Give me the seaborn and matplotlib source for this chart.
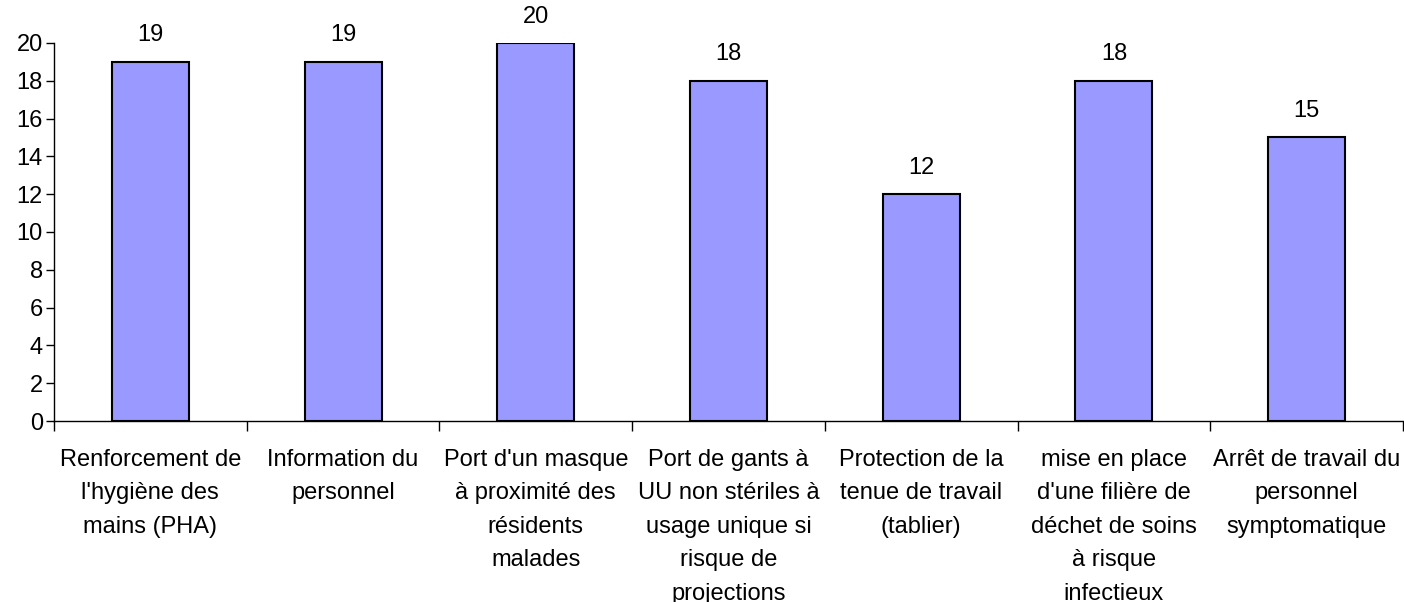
import matplotlib
matplotlib.use("Agg")
import matplotlib.pyplot as plt
import seaborn as sns
import pandas as pd
import numpy as np

categories = [
    "Renforcement de\nl'hygiène des\nmains (PHA)",
    "Information du\npersonnel",
    "Port d'un masque\nà proximité des\nrésidents\nmalades",
    "Port de gants à\nUU non stériles à\nusage unique si\nrisque de\nprojections",
    "Protection de la\ntenue de travail\n(tablier)",
    "mise en place\nd'une filière de\ndéchet de soins\nà risque\ninfectieux",
    "Arrêt de travail du\npersonnel\nsymptomatique",
]
values = [19, 19, 20, 18, 12, 18, 15]
y_ticks = [0, 2, 4, 6, 8, 10, 12, 14, 16, 18, 20]

sns.set_theme(style="white")
plt.rcParams['font.family'] = ['Liberation Sans', 'DejaVu Sans']
plt.rcParams['text.color'] = 'black'
plt.rcParams['xtick.color'] = 'black'
plt.rcParams['ytick.color'] = 'black'
plt.rcParams['xtick.labelcolor'] = 'black'
plt.rcParams['ytick.labelcolor'] = 'black'

FS = 17
df = pd.DataFrame({"cat": categories, "val": values})

fig = plt.figure(figsize=(14.04, 6.02), dpi=100)
ax = fig.add_axes([54/1404, 1-421/602, (1403-54)/1404, (421-43)/602])

sns.barplot(data=df, x="cat", y="val", ax=ax, color="#9999FF", width=0.4,
            edgecolor="black", linewidth=1.5, saturation=1)

for p, v in zip(ax.patches, values):
    ax.text(p.get_x() + p.get_width()/2, v + 1.4, f"{v}", ha="center", va="center",
            fontsize=FS, color="black")

ax.set_xlim(-0.5, len(categories) - 0.5)
ax.set_ylim(0, 20)
ax.set_yticks(y_ticks)
ax.set_yticklabels([str(t) for t in y_ticks], fontsize=FS)
ax.set_xticks(range(len(categories)))
ax.set_xticklabels(categories, fontsize=FS, linespacing=1.68, va="top")
ax.set_xticks(np.arange(-0.5, len(categories), 1.0), minor=True)
ax.tick_params(axis="x", which="major", length=0, pad=20)
ax.tick_params(axis="x", which="minor", length=7, width=1, color="black", direction="out", bottom=True)
ax.tick_params(axis="y", length=6, width=1, color="black", direction="out", left=True, pad=2)
ax.set_xlabel("")
ax.set_ylabel("")
for s in ["top", "right"]:
    ax.spines[s].set_visible(False)
for s in ["left", "bottom"]:
    ax.spines[s].set_color("black")
    ax.spines[s].set_linewidth(1)
ax.grid(False)

fig.savefig("out.png", dpi=100)
